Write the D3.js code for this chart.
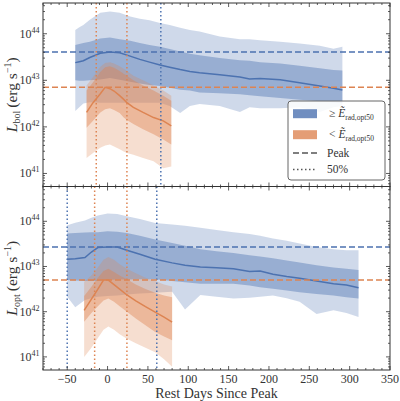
<!DOCTYPE html>
<html>
<head>
<meta charset="utf-8">
<script src="https://cdn.jsdelivr.net/npm/d3@7"></script>
<style>
  html, body { margin: 0; padding: 0; background: #fff; }
  svg { display: block; font-family: "Liberation Serif", "DejaVu Serif", serif; }
</style>
</head>
<body>
<svg id="chart" width="400" height="401"></svg>
<script>
// all luminosities are log10(L / erg s^-1)

// top panel, L_bol, group >= median E_rad
const bolHiDays = [-40, -35, -30, -22, -9, 3, 15, 28, 40, 52, 65, 77, 90, 102, 114, 139, 164, 176, 189, 214, 238, 263, 280, 291];
const bolHiMed = [43.38, 43.40, 43.42, 43.49, 43.58, 43.61, 43.59, 43.52, 43.45, 43.39, 43.33, 43.28, 43.23, 43.19, 43.16, 43.12, 43.07, 43.03, 43.04, 43.01, 42.95, 42.88, 42.83, 42.79];
const bolHiInLo = [43.00, 42.99, 42.99, 43.00, 43.02, 43.05, 43.01, 42.97, 42.93, 42.90, 42.88, 42.84, 42.80, 42.78, 42.74, 42.72, 42.70, 42.68, 42.66, 42.62, 42.58, 42.55, 42.53, 42.52];
const bolHiInHi = [43.76, 43.78, 43.80, 43.83, 43.90, 43.92, 43.88, 43.85, 43.80, 43.76, 43.72, 43.67, 43.62, 43.57, 43.54, 43.48, 43.43, 43.42, 43.39, 43.36, 43.31, 43.26, 43.22, 43.21];
const bolHiOutLo = [42.34, 42.42, 42.50, 42.53, 42.52, 42.52, 42.52, 42.52, 42.52, 42.52, 42.52, 42.45, 42.30, 42.45, 42.49, 42.45, 42.32, 42.42, 42.40, 42.40, 42.42, 42.32, 42.42, 42.45];
const bolHiOutHi = [44.08, 44.14, 44.19, 44.30, 44.45, 44.48, 44.45, 44.37, 44.32, 44.29, 44.23, 44.19, 44.13, 44.08, 44.05, 43.94, 43.88, 43.88, 43.86, 43.83, 43.79, 43.74, 43.68, 43.72];

// top panel, L_bol, group < median E_rad
const bolLoDays = [-26, -18, -9, -3, 3, 8, 15, 20, 24, 32, 44, 57, 69, 79];
const bolLoMed = [42.31, 42.52, 42.71, 42.85, 42.82, 42.77, 42.67, 42.59, 42.52, 42.42, 42.31, 42.20, 42.13, 42.02];
const bolLoInLo = [41.98, 42.13, 42.31, 42.38, 42.40, 42.36, 42.30, 42.20, 42.15, 42.06, 41.95, 41.84, 41.73, 41.62];
const bolLoInHi = [42.78, 42.96, 43.18, 43.28, 43.30, 43.27, 43.20, 43.14, 43.10, 43.00, 42.89, 42.78, 42.67, 42.56];
const bolLoOutLo = [41.33, 41.44, 41.55, 41.60, 41.62, 41.58, 41.52, 41.47, 41.44, 41.40, 41.33, 41.26, 41.11, 41.15];
const bolLoOutHi = [42.89, 43.07, 43.29, 43.37, 43.39, 43.36, 43.30, 43.25, 43.20, 43.10, 43.00, 42.89, 42.78, 42.67];

// bottom panel, L_opt, group >= median E_rad
const optHiDays = [-50, -40, -28, -20, -12, 0, 12, 24, 40, 59, 80, 96, 115, 135, 156, 176, 189, 205, 222, 238, 259, 280, 296, 311];
const optHiMed = [43.16, 43.17, 43.20, 43.32, 43.42, 43.43, 43.43, 43.36, 43.27, 43.16, 43.08, 43.03, 42.99, 42.97, 42.95, 42.89, 42.90, 42.83, 42.78, 42.74, 42.68, 42.62, 42.59, 42.53];
const optHiInLo = [42.70, 42.69, 42.68, 42.68, 42.68, 42.70, 42.71, 42.71, 42.72, 42.72, 42.68, 42.65, 42.62, 42.62, 42.62, 42.58, 42.54, 42.51, 42.47, 42.43, 42.39, 42.36, 42.32, 42.29];
const optHiInHi = [43.73, 43.74, 43.75, 43.76, 43.76, 43.78, 43.77, 43.74, 43.68, 43.60, 43.52, 43.46, 43.38, 43.34, 43.30, 43.25, 43.22, 43.18, 43.13, 43.09, 43.03, 42.98, 42.95, 42.92];
const optHiOutLo = [42.33, 42.10, 42.26, 42.30, 42.33, 42.35, 42.36, 42.38, 42.40, 42.42, 42.44, 42.05, 42.37, 42.33, 42.29, 42.31, 42.33, 42.36, 42.30, 42.22, 41.95, 42.03, 41.97, 41.88];
const optHiOutHi = [43.91, 43.97, 44.02, 44.08, 44.13, 44.17, 44.16, 44.11, 44.05, 43.96, 43.93, 43.90, 43.86, 43.81, 43.76, 43.72, 43.68, 43.62, 43.57, 43.51, 43.43, 43.38, 43.36, 43.36];

// bottom panel, L_opt, group < median E_rad
const optLoDays = [-29, -20, -12, -5, 1, 8, 15, 24, 35, 47, 59, 70, 80];
const optLoMed = [42.03, 42.28, 42.50, 42.70, 42.70, 42.60, 42.50, 42.37, 42.24, 42.11, 41.99, 41.88, 41.77];
const optLoInLo = [41.78, 41.97, 42.12, 42.25, 42.29, 42.22, 42.12, 42.00, 41.85, 41.70, 41.55, 41.45, 41.37];
const optLoInHi = [42.35, 42.55, 42.75, 42.90, 42.95, 42.88, 42.80, 42.72, 42.60, 42.50, 42.42, 42.36, 42.32];
const optLoOutLo = [41.00, 41.20, 41.42, 41.60, 41.67, 41.60, 41.50, 41.40, 41.30, 41.20, 41.10, 40.95, 40.78];
const optLoOutHi = [42.66, 42.80, 42.98, 43.15, 43.21, 43.15, 43.05, 42.95, 42.85, 42.75, 42.68, 42.60, 42.56];

// days where each median drops to 50% of peak (dotted lines)
const bolHalfHi = [66];
const bolHalfLo = [-14, 24];
const optHalfHi = [-50, 61];
const optHalfLo = [-16, 24];

const xTickLabels = [-50, 0, 50, 100, 150, 200, 250, 300, 350];

const blue = '#4C72B0';
const orange = '#DD8452';

const L = v => Math.pow(10, v);

function makeSeries(days, med, inLo, inHi, outLo, outHi) {
  return days.map((d, i) => ({
    day: d, med: L(med[i]),
    inLo: L(inLo[i]), inHi: L(inHi[i]),
    outLo: L(outLo[i]), outHi: L(outHi[i])
  }));
}

const panels = [
  {
    name: 'bol', y0: 3, y1: 186.5, ylim: [40.72, 44.66],
    groups: [
      { color: blue, data: makeSeries(bolHiDays, bolHiMed, bolHiInLo, bolHiInHi, bolHiOutLo, bolHiOutHi), half: bolHalfHi },
      { color: orange, data: makeSeries(bolLoDays, bolLoMed, bolLoInLo, bolLoInHi, bolLoOutLo, bolLoOutHi), half: bolHalfLo }
    ]
  },
  {
    name: 'opt', y0: 186.5, y1: 370, ylim: [40.71, 44.77],
    groups: [
      { color: blue, data: makeSeries(optHiDays, optHiMed, optHiInLo, optHiInHi, optHiOutLo, optHiOutHi), half: optHalfHi },
      { color: orange, data: makeSeries(optLoDays, optLoMed, optLoInLo, optLoInHi, optLoOutLo, optLoOutHi), half: optHalfLo }
    ]
  }
];

const x0 = 43, x1 = 390;
const svg = d3.select('#chart');
const x = d3.scaleLinear().domain([-80, 350]).range([x0, x1]);

panels.forEach((p, pi) => {
  const y = d3.scaleLog().domain([L(p.ylim[0]), L(p.ylim[1])]).range([p.y1, p.y0]);
  const g = svg.append('g');

  svg.append('clipPath').attr('id', 'clip' + pi)
    .append('rect').attr('x', x0).attr('y', p.y0).attr('width', x1 - x0).attr('height', p.y1 - p.y0);
  const plot = g.append('g').attr('clip-path', `url(#clip${pi})`);

  const outer = d3.area().x(d => x(d.day)).y0(d => y(d.outLo)).y1(d => y(d.outHi));
  const inner = d3.area().x(d => x(d.day)).y0(d => y(d.inLo)).y1(d => y(d.inHi));
  const line = d3.line().x(d => x(d.day)).y(d => y(d.med));

  // bands and medians
  p.groups.forEach(gr => {
    plot.append('path').attr('d', outer(gr.data)).attr('fill', gr.color).attr('fill-opacity', 0.27);
    plot.append('path').attr('d', inner(gr.data)).attr('fill', gr.color).attr('fill-opacity', 0.42);
    plot.append('path').attr('d', line(gr.data)).attr('fill', 'none')
      .attr('stroke', gr.color).attr('stroke-width', 1.5);
  });

  // peak (dashed) and 50% (dotted) lines
  p.groups.forEach(gr => {
    const peak = d3.max(gr.data, d => d.med);
    plot.append('line').attr('x1', x0).attr('x2', x1).attr('y1', y(peak)).attr('y2', y(peak))
      .attr('stroke', gr.color).attr('stroke-width', 1.5).attr('stroke-dasharray', '6,3');
    gr.half.forEach(day => {
      plot.append('line').attr('x1', x(day)).attr('x2', x(day)).attr('y1', p.y0).attr('y2', p.y1)
        .attr('stroke', gr.color).attr('stroke-width', 1.5).attr('stroke-dasharray', '1.5,2.5');
    });
  });

  // ticks, all inward
  const ticks = g.append('g').attr('stroke', '#333').attr('stroke-width', 0.8);
  const majorY = d3.range(41, 45).map(L);
  const minorY = [];
  d3.range(40, 45).forEach(e => d3.range(2, 10).forEach(k => {
    const v = k * L(e);
    if (v > L(p.ylim[0]) && v < L(p.ylim[1])) minorY.push(v);
  }));
  majorY.forEach(v => {
    ticks.append('line').attr('x1', x0).attr('x2', x0 + 4).attr('y1', y(v)).attr('y2', y(v));
    ticks.append('line').attr('x1', x1 - 4).attr('x2', x1).attr('y1', y(v)).attr('y2', y(v));
  });
  minorY.forEach(v => {
    ticks.append('line').attr('x1', x0).attr('x2', x0 + 2).attr('y1', y(v)).attr('y2', y(v));
    ticks.append('line').attr('x1', x1 - 2).attr('x2', x1).attr('y1', y(v)).attr('y2', y(v));
  });
  d3.range(-80, 351, 10).forEach(v => {
    const len = v % 50 === 0 ? 4 : 2;
    ticks.append('line').attr('x1', x(v)).attr('x2', x(v)).attr('y1', p.y0).attr('y2', p.y0 + len);
    ticks.append('line').attr('x1', x(v)).attr('x2', x(v)).attr('y1', p.y1 - len).attr('y2', p.y1);
  });

  // frame
  g.append('rect').attr('x', x0).attr('y', p.y0).attr('width', x1 - x0).attr('height', p.y1 - p.y0)
    .attr('fill', 'none').attr('stroke', '#333').attr('stroke-width', 1);

  // y tick labels
  majorY.forEach((v, i) => {
    const t = g.append('text').attr('x', 39.5).attr('y', y(v) + 4)
      .attr('text-anchor', 'end').attr('font-size', 12).attr('fill', '#333');
    t.append('tspan').text('10');
    t.append('tspan').attr('dy', -5).attr('font-size', 8).text(String(41 + i));
  });

  // y axis label
  const yl = g.append('text')
    .attr('transform', `translate(17,${(p.y0 + p.y1) / 2}) rotate(-90)`)
    .attr('text-anchor', 'middle').attr('font-size', 15.5).attr('fill', '#333');
  yl.append('tspan').attr('font-style', 'italic').text('L');
  yl.append('tspan').attr('dy', 3).attr('font-size', 10).text(p.name);
  yl.append('tspan').attr('dy', -3).text('\u2009(erg s');
  yl.append('tspan').attr('dy', -6).attr('font-size', 10).text('\u22121');
  yl.append('tspan').attr('dy', 6).text(')');
});

// x tick labels + label on the bottom panel
xTickLabels.forEach(v => {
  svg.append('text').attr('x', x(v)).attr('y', 382.5).attr('text-anchor', 'middle')
    .attr('font-size', 12).attr('fill', '#333')
    .text(v < 0 ? '\u2212' + Math.abs(v) : String(v));
});
svg.append('text').attr('x', (x0 + x1) / 2).attr('y', 398).attr('text-anchor', 'middle')
  .attr('font-size', 14).attr('fill', '#333').text('Rest Days Since Peak');

// legend
const lg = svg.append('g');
lg.append('rect').attr('x', 288).attr('y', 101).attr('width', 97).attr('height', 79).attr('rx', 3)
  .attr('fill', '#fff').attr('fill-opacity', 0.85).attr('stroke', '#666').attr('stroke-width', 1);
const legendItems = [
  { type: 'patch', color: blue, rel: '\u2265' },
  { type: 'patch', color: orange, rel: '<' },
  { type: 'line', dash: '6,3', label: 'Peak' },
  { type: 'line', dash: '1.5,2.5', label: '50%' }
];
const legendY = [113.7, 134.7, 153, 169.5];
legendItems.forEach((it, i) => {
  const cy = legendY[i];
  if (it.type === 'patch') {
    lg.append('rect').attr('x', 293).attr('y', cy - 4.5).attr('width', 24).attr('height', 9)
      .attr('fill', it.color).attr('fill-opacity', 0.8);
    const t = lg.append('text').attr('x', 329).attr('y', cy + 3.5).attr('font-size', 11.5).attr('fill', '#333');
    t.append('tspan').text(it.rel + ' ');
    t.append('tspan').attr('font-style', 'italic').text('\u1EBC');
    t.append('tspan').attr('dy', 2.5).attr('font-size', 7.5).text('rad,opt50');
  } else {
    lg.append('line').attr('x1', 293).attr('x2', 317).attr('y1', cy).attr('y2', cy)
      .attr('stroke', '#555').attr('stroke-width', 1.5).attr('stroke-dasharray', it.dash);
    lg.append('text').attr('x', 327).attr('y', cy + 3.5).attr('font-size', 11.5).attr('fill', '#333').text(it.label);
  }
});
</script>
</body>
</html>
